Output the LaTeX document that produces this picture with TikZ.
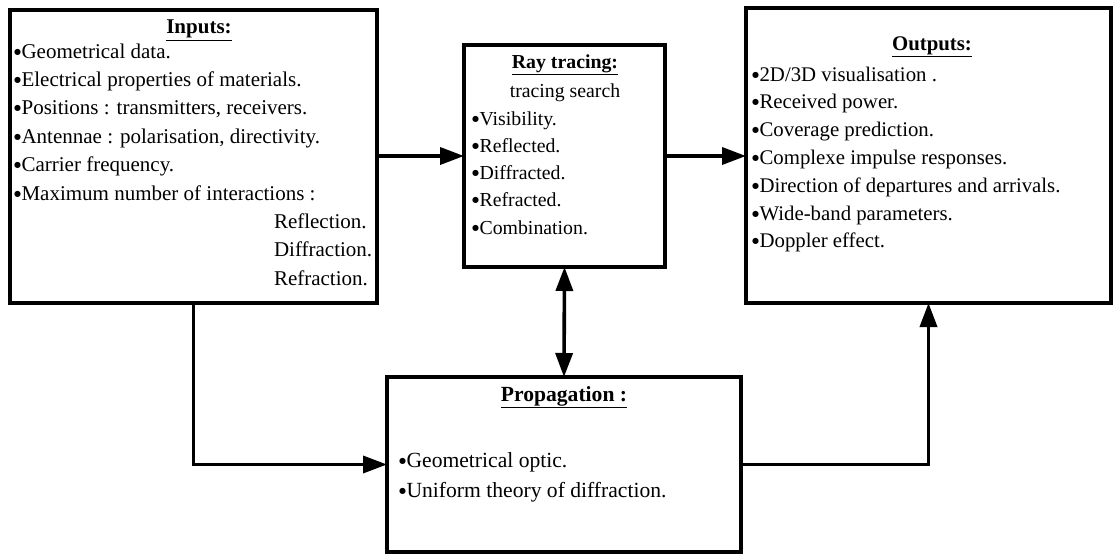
\documentclass[tikz,border=0pt]{standalone}
\usepackage{fontspec}
\setmainfont{Liberation Serif}
\newfontfamily\dejavu{DejaVu Sans}
\usetikzlibrary{arrows.meta}
\newcommand{\bul}{\raisebox{4pt}{\dejavu\fontsize{8}{8}\selectfont ●}\kern0.6pt}
\newcommand{\fsIn}{\fontsize{21}{25}\selectfont}
\newcommand{\fsRt}{\fontsize{19.8}{24}\selectfont}
\newcommand{\fsOut}{\fontsize{20.8}{25}\selectfont}
\newcommand{\fsPr}{\fontsize{21.6}{26}\selectfont}
\begin{document}
\begin{tikzpicture}[x=1pt,y=-1pt,
  box/.style={draw, line width=3.6pt, rectangle, inner sep=0pt, outer sep=0pt, anchor=north west},
  ln/.style={anchor=base west, inner sep=0pt, outer sep=0pt},
  ttl/.style={anchor=base, inner sep=0pt, outer sep=0pt},
  arr/.style={line width=3.6pt, -{Triangle[length=24pt,width=17pt]}},
  darr/.style={line width=3.6pt, {Triangle[length=24pt,width=17pt]}-{Triangle[length=24pt,width=17pt]}},
]
\useasboundingbox (0,0) rectangle (1114,554);

% boxes
\node[box, minimum width=367pt, minimum height=293pt] (inputs) at (10,10) {};
\node[box, minimum width=201pt, minimum height=222pt] (rt) at (464,45) {};
\node[box, minimum width=365pt, minimum height=295pt] (out) at (746,8) {};
\node[box, minimum width=354pt, minimum height=175pt] (prop) at (387,377) {};

% Inputs text
\node[ttl, font=\fsIn\bfseries] (inT) at (199,34) {\underline{Inputs:}};
\foreach \t [count=\i] in {Geometrical data., Electrical properties of materials.,
  {Positions : transmitters, receivers.}, {Antennae : polarisation, directivity.},
  Carrier frequency., Maximum number of interactions :}
  \node[ln, font=\fsIn] (in\i) at (14,{58+28.4*(\i-1)}) {\bul\t};
\foreach \t [count=\i from 7] in {Reflection., Diffraction., Refraction.}
  \node[ln, font=\fsIn] (in\i) at (274,{58+28.4*(\i-1)}) {\t};

% Ray tracing text
\node[ttl, font=\fsRt\bfseries] (rtT) at (565,68) {\underline{Ray tracing:}};
\node[ttl, font=\fsRt] (rt0) at (565,97) {tracing search};
\foreach \t [count=\i] in {Visibility., Reflected., Diffracted., Refracted., Combination.}
  \node[ln, font=\fsRt] (rt\i) at (472,{125+27.3*(\i-1)}) {\bul\t};

% Outputs text
\node[ttl, font=\fsOut\bfseries] (outT) at (932,50) {\underline{Outputs:}};
\foreach \t [count=\i] in {2D/3D visualisation ., Received power., Coverage prediction.,
  Complexe impulse responses., Direction of departures and arrivals.,
  Wide-band parameters., Doppler effect.}
  \node[ln, font=\fsOut] (out\i) at (752,{81+27.8*(\i-1)}) {\bul\t};

% Propagation text
\node[ttl, font=\fsPr\bfseries] (prT) at (564,401) {\underline{Propagation :}};
\node[ln, font=\fsPr] (pr1) at (399,467) {\bul Geometrical optic.};
\node[ln, font=\fsPr] (pr2) at (399,497) {\bul Uniform theory of diffraction.};

% connectors
\draw[arr] (inputs.east |- rt.west) -- (rt.west);
\draw[arr] (rt.east) -- (rt.east -| out.west);
\draw[darr] (rt.south) -- (prop.north);
\draw[arr] (inputs.south) |- (prop.west);
\draw[arr] (prop.east) -| (out.south);
\end{tikzpicture}
\end{document}
